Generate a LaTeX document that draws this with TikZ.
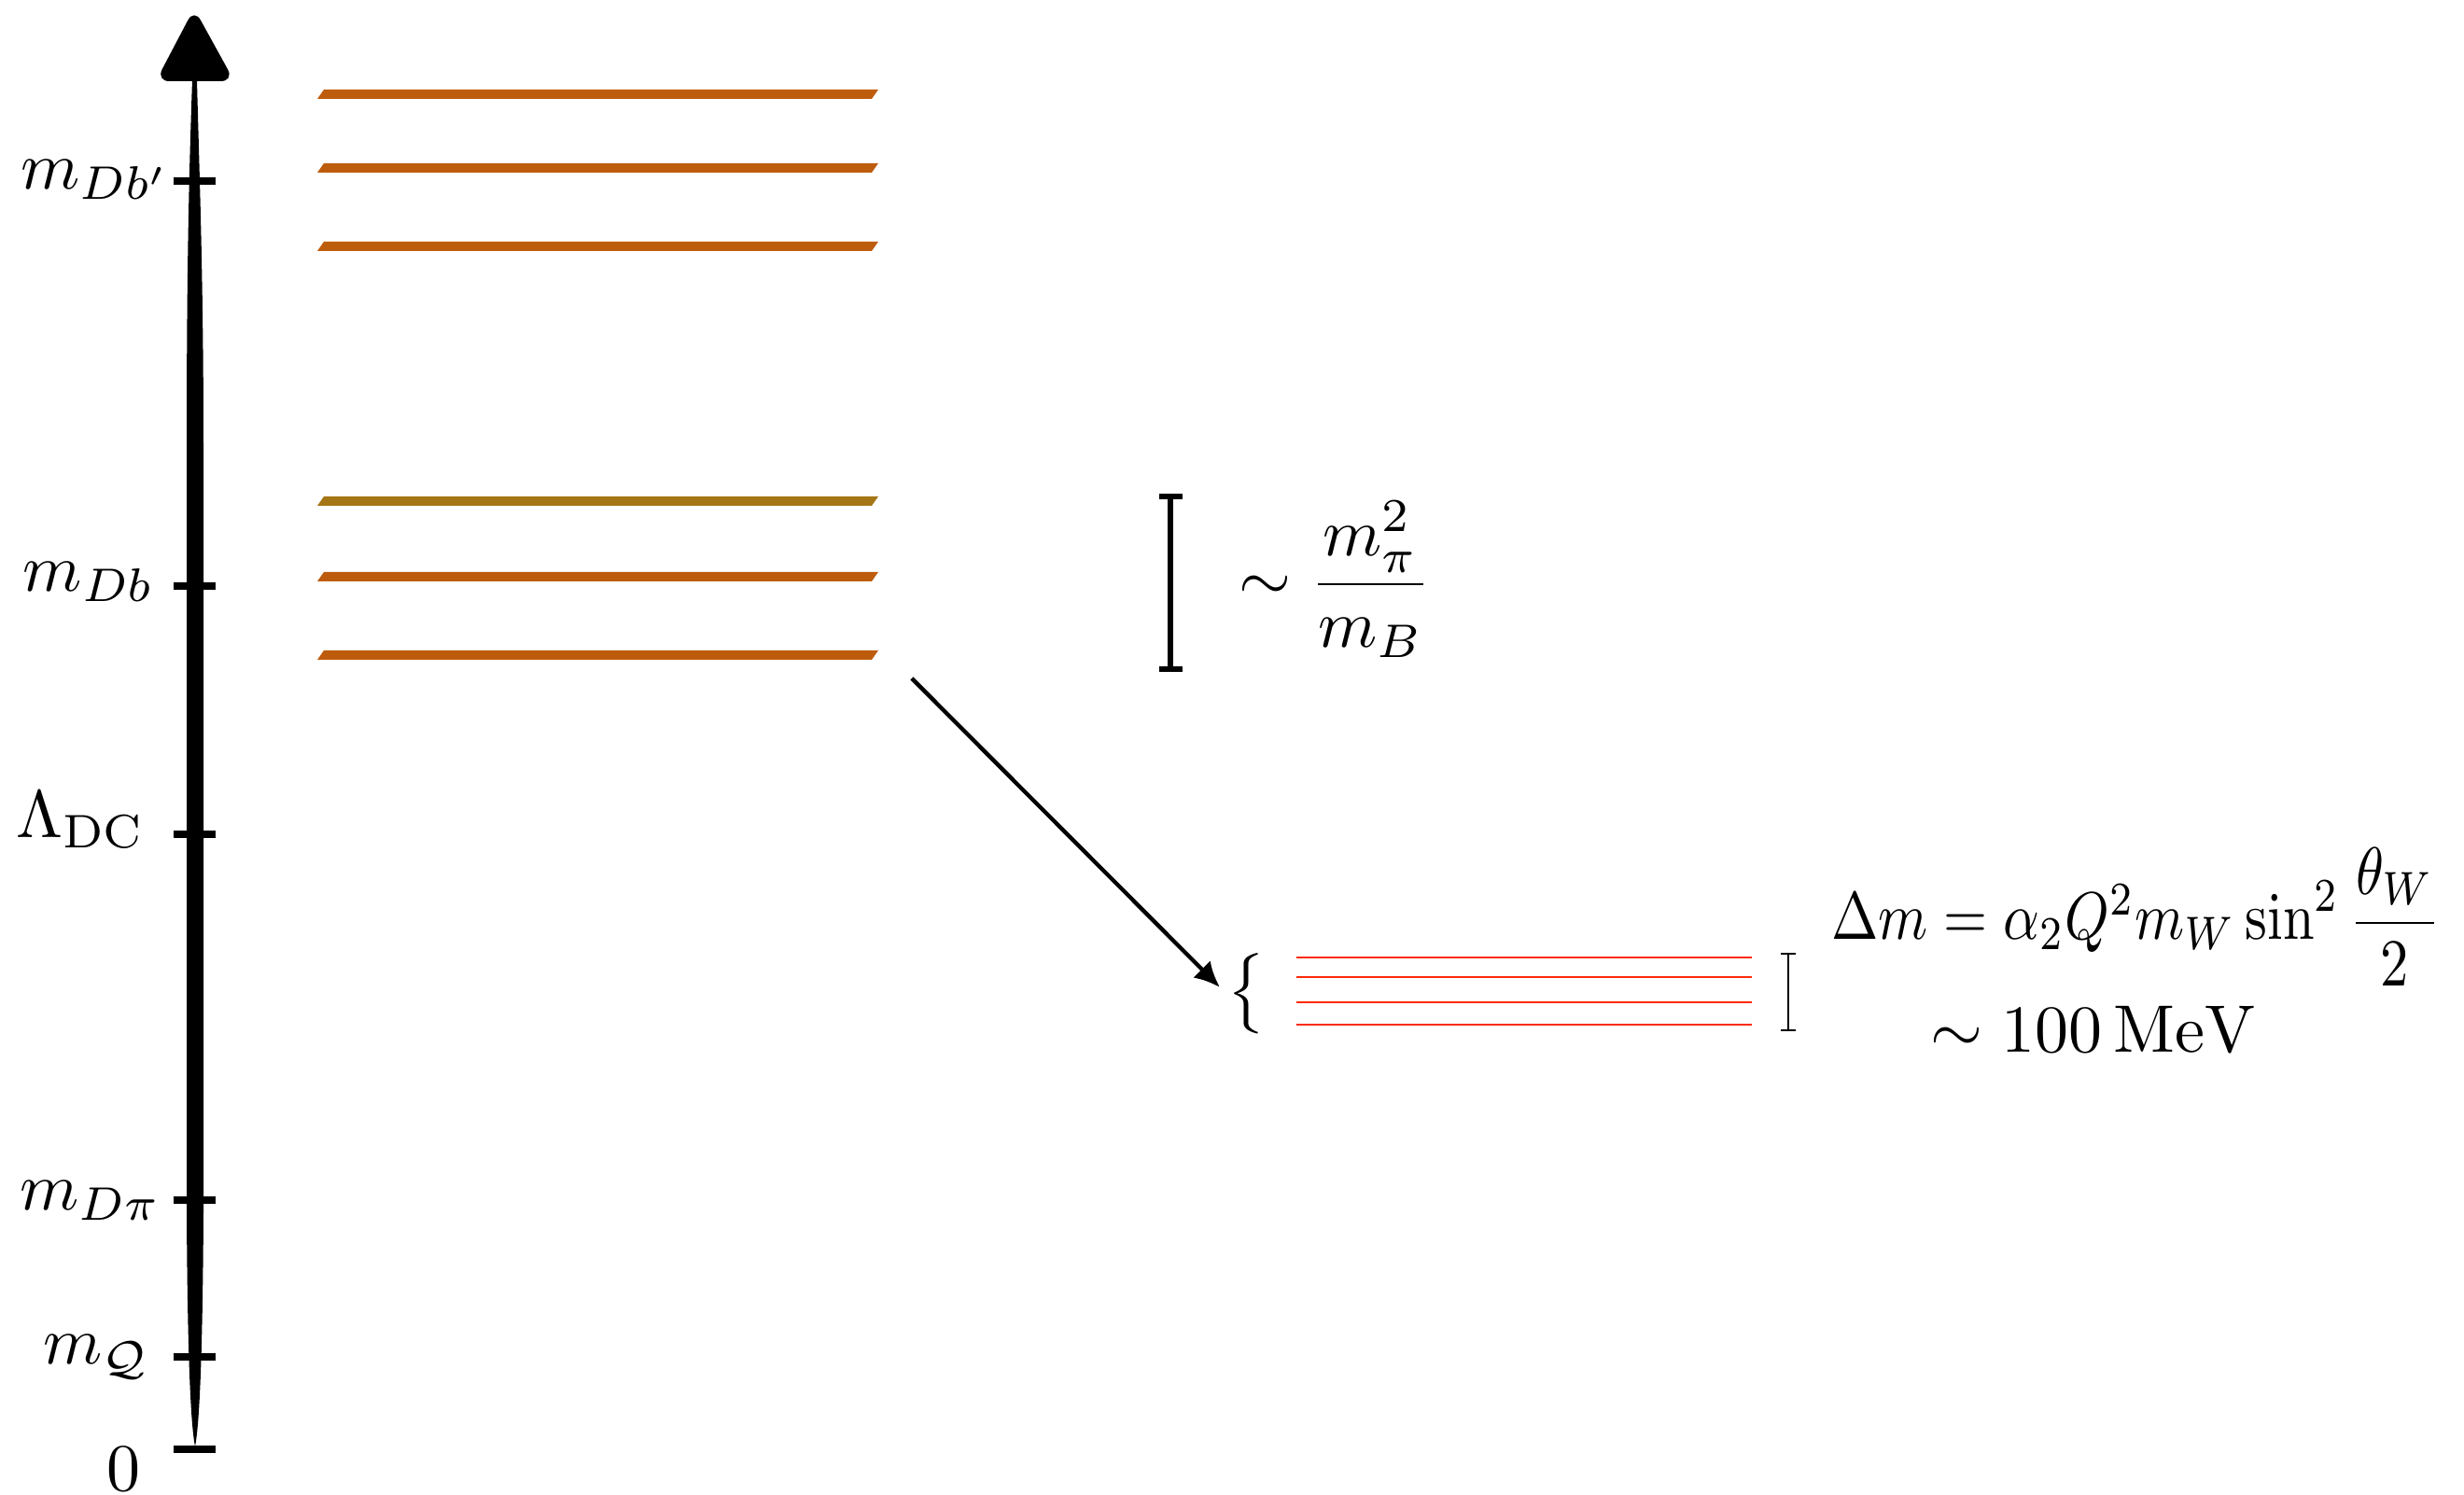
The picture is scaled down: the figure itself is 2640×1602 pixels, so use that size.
\documentclass[tikz,border=0pt]{standalone}
\usepackage{amsmath}
\usepackage{graphicx}
\usetikzlibrary{arrows.meta}
\definecolor{levelorange}{RGB}{190,92,14}
\definecolor{levelolive}{RGB}{165,118,22}
\definecolor{splitred}{RGB}{252,42,12}
\begin{document}
\begin{tikzpicture}[x=0.13889pt, y=-0.13889pt,
  axtick/.style={line width=1.1pt},
  axlabel/.style={anchor=base east, inner sep=0pt},
  formula/.style={anchor=base west, inner sep=0pt},
  splitline/.style={splitred, line width=0.4pt},
  gapbar/.style={line width=#1},
  decay/.style={line width=0.6pt, -{Latex[length=3.8pt,width=3.6pt]}}]
\path[use as bounding box] (0,0) rectangle (2640,1602);

% energy axis: brush-like tapered shaft and arrowhead
\fill (206,86) .. controls (202,200) and (200,300) .. (200,480)
  -- (200,1300) .. controls (201,1470) and (205,1530) .. (209,1550)
  .. controls (213,1530) and (217,1470) .. (218,1300)
  -- (218,480) .. controls (218,300) and (214,200) .. (211,86) -- cycle;
\fill[rounded corners=2pt] (208,9) -- (251,87) -- (167,87) -- cycle;

% ticks on the axis
\foreach \name/\yy in {tDbp/194, tDb/628, tLam/894, tDpi/1286, tQ/1454, tZero/1553}{
  \coordinate (\name) at (208,\yy);
  \draw[axtick] (186,\yy) -- (231,\yy);
}

% tick labels
\node[axlabel] (lDbp) at (184,203) {$m_{Db'}$};
\node[axlabel] (lDb) at (167,634) {$m_{Db}$};
\node[axlabel] (lLam) at (157,898) {$\Lambda_{\mathrm{DC}}$};
\node[axlabel] (lDpi) at (174,1297) {$m_{D\pi}$};
\node[axlabel] (lQ) at (162,1462) {$m_{\mathcal{Q}}$};
\node[anchor=base, inner sep=0pt] (lZero) at (133,1598) {$0$};

% baryon levels
\foreach \yy/\cc in {101/levelorange, 180/levelorange, 264/levelorange,
                     537/levelolive, 618/levelorange, 702/levelorange}{
  \fill[\cc] (340,\yy+5) -- (347,\yy-5) -- (941,\yy-5) -- (934,\yy+5) -- cycle;
}

% splitting of the lower multiplet
\draw[gapbar=0.9pt] (1254,532) -- (1254,717);
\draw[gapbar=0.8pt] (1242,532) -- (1267,532) (1242,717) -- (1267,717);
\node[formula] (split) at (1326,644) {$\sim \dfrac{m_\pi^2}{m_B}$};

% decay arrow to the electroweak fine structure
\coordinate (arrowstart) at (977,727);
\coordinate (arrowend) at (1307,1058);
\draw[decay] (arrowstart) -- (arrowend);

\node[inner sep=0pt] (brace) at (1335,1065) {$\big\{$};
\foreach \yy in {1026,1047,1074,1098}{
  \draw[splitline] (1389,\yy) -- (1877,\yy);
}
\draw[gapbar=0.4pt] (1916,1022) -- (1916,1104);
\draw[gapbar=0.4pt] (1908,1022) -- (1924,1022) (1908,1104) -- (1924,1104);

\node[formula] (dm) at (1961,1007)
  {\scalebox{0.84}[1]{$\Delta m = \alpha_2 Q^2 m_W \sin^2\dfrac{\theta_W}{2}$}};
\node[formula] (hund) at (2067,1128) {$\sim 100\,\mathrm{MeV}$};
\end{tikzpicture}
\end{document}
